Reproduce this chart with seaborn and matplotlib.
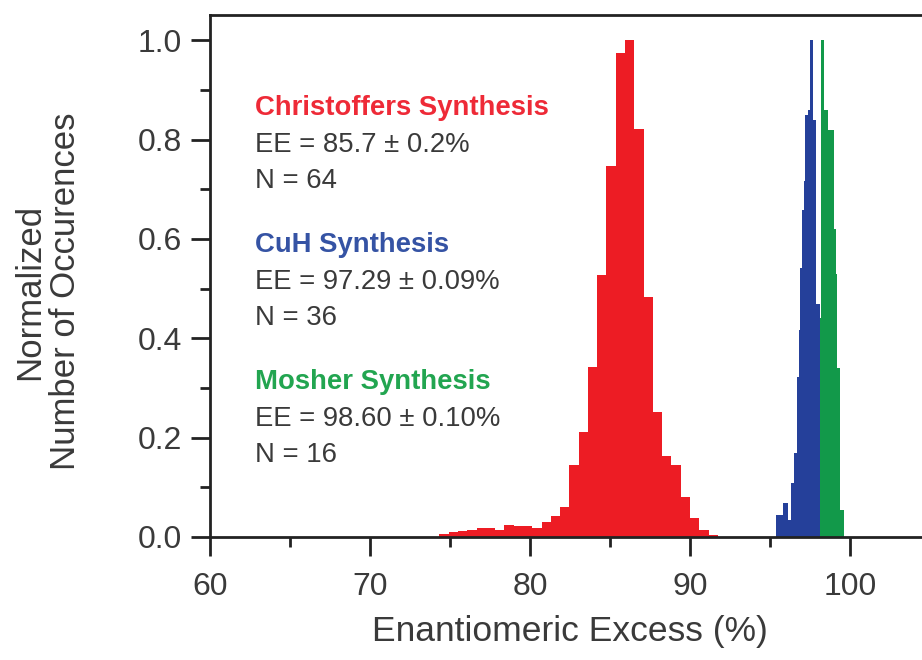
import numpy as np
import pandas as pd
import matplotlib
matplotlib.use("Agg")
import matplotlib.pyplot as plt
from matplotlib.ticker import MultipleLocator, FormatStrFormatter
import seaborn as sns

# Christoffers synthesis: bin start, bin width, normalized counts
red_start = 74.34
red_width = 0.58
red_heights = [0.007, 0.011, 0.013, 0.014, 0.019, 0.019, 0.014, 0.025, 0.023,
               0.022, 0.019, 0.031, 0.042, 0.061, 0.145, 0.212, 0.343, 0.528,
               0.746, 0.975, 1.0, 0.821, 0.484, 0.252, 0.163, 0.145, 0.081,
               0.038, 0.014, 0.005]

# CuH synthesis
blue_start = 95.4
blue_width = 0.1
blue_heights = [0.044, 0.044, 0.044, 0.044, 0.069, 0.069, 0.069, 0.034, 0.034,
                0.108, 0.108, 0.169, 0.169, 0.323, 0.417, 0.541, 0.659, 0.716,
                0.85, 0.85, 0.86, 1.0, 1.0, 0.84, 0.84, 0.47, 0.47, 0.35, 0.25,
                0.2, 0.15, 0.12, 0.1, 0.1, 0.08, 0.05]

# Mosher synthesis
green_start = 98.1
green_width = 0.1
green_heights = [0.44, 1.0, 1.0, 0.86, 0.86, 0.82, 0.82, 0.82, 0.82, 0.62, 0.53,
                 0.34, 0.34, 0.054, 0.054]

labels = ["Christoffers Synthesis", "CuH Synthesis", "Mosher Synthesis"]
ee_text = ["EE = 85.7 ± 0.2%", "EE = 97.29 ± 0.09%", "EE = 98.60 ± 0.10%"]
n_text = ["N = 64", "N = 36", "N = 16"]
colors = ["#ED1C24", "#25409A", "#12994A"]
label_colors = ["#EE2A37", "#3553A4", "#22A550"]

sns.set_style("ticks")
plt.rcParams['font.family'] = ['Liberation Sans', 'DejaVu Sans']

fig = plt.figure(figsize=(9.22, 6.6), dpi=100)
ax = fig.add_axes([210 / 922, 1 - 537 / 660, 1 - 210 / 922, (537 - 15) / 660])

series = [(red_start, red_width, red_heights),
          (blue_start, blue_width, blue_heights),
          (green_start, green_width, green_heights)]
for (start, width, heights), color in zip(series, colors):
    n = len(heights)
    edges = start + width * np.arange(n + 1)
    df = pd.DataFrame({"ee": (edges[:-1] + edges[1:]) / 2, "w": heights})
    sns.histplot(data=df, x="ee", weights="w", bins=list(edges), element="step",
                 fill=True, color=color, alpha=1, linewidth=0, ax=ax)

ax.set_xlim(60, 104.5)
ax.set_ylim(0, 1.051)
ax.xaxis.set_major_locator(MultipleLocator(10))
ax.xaxis.set_minor_locator(MultipleLocator(5))
ax.yaxis.set_major_locator(MultipleLocator(0.2))
ax.yaxis.set_minor_locator(MultipleLocator(0.1))
ax.yaxis.set_major_formatter(FormatStrFormatter('%.1f'))

text_color = "#3a3a3a"
ax.tick_params(which="major", direction="out", length=14, width=2,
               labelsize=23, colors="#222222", labelcolor=text_color)
ax.tick_params(which="minor", direction="out", length=7, width=2, colors="#222222")
ax.tick_params(axis="x", which="major", pad=11)
ax.tick_params(axis="y", which="major", pad=6)
for side in ["left", "bottom", "top"]:
    ax.spines[side].set_linewidth(2)
    ax.spines[side].set_color("#222222")
ax.spines["right"].set_visible(False)

ax.set_xlabel("Enantiomeric Excess (%)", fontsize=25.5, color=text_color)
ax.set_ylabel("Normalized\nNumber of Occurences", fontsize=25, color=text_color,
              linespacing=1.1)
ax.xaxis.set_label_coords(0.506, -0.15)
ax.yaxis.set_label_coords(-0.18, 0.47)

# annotations
label_y = [0.864, 0.588, 0.312]
for i in range(3):
    y0 = label_y[i]
    ax.text(62.8, y0, labels[i], color=label_colors[i], fontsize=19.8,
            fontweight="bold", va="center", ha="left")
    ax.text(62.8, y0 - 0.074, ee_text[i], color=text_color, fontsize=19.8,
            va="center", ha="left")
    ax.text(62.8, y0 - 0.147, n_text[i], color=text_color, fontsize=19.8,
            va="center", ha="left")

fig.savefig("out.png", dpi=100)
